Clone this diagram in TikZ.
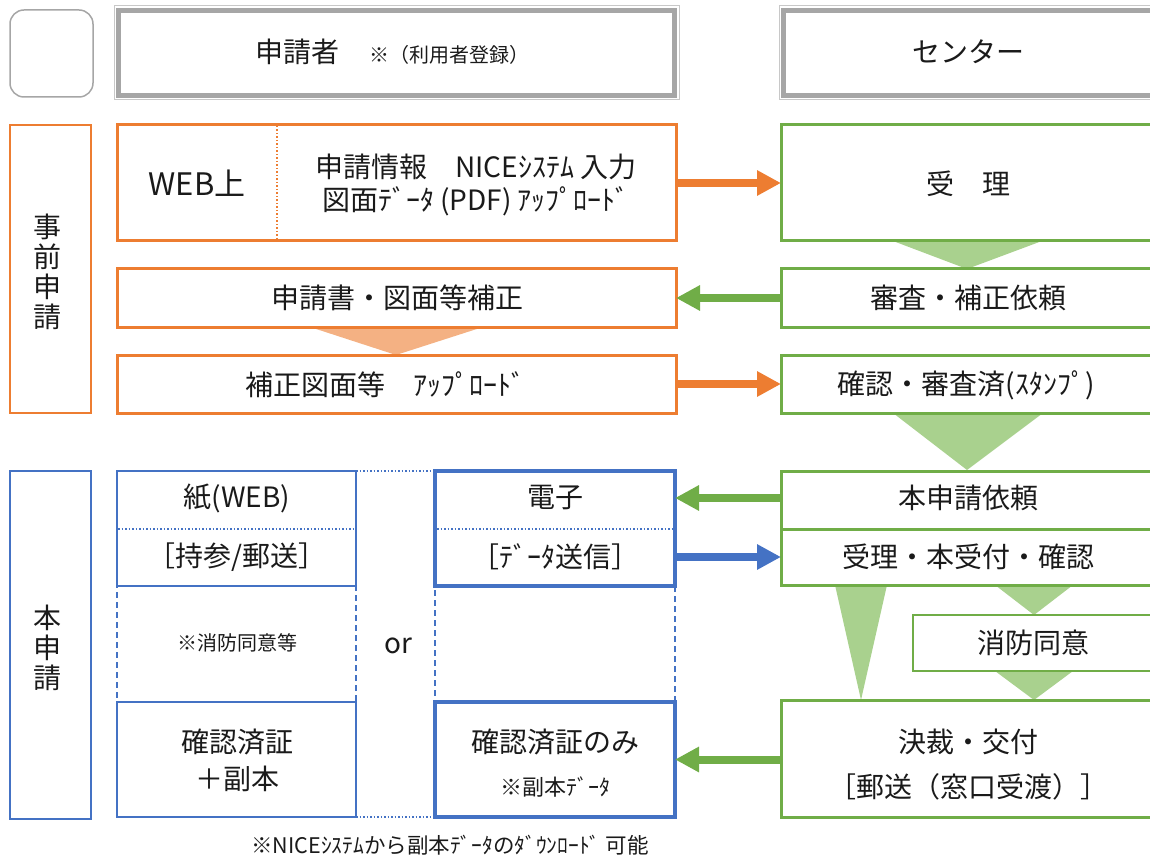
\documentclass[tikz,border=0pt]{standalone}
\usepackage{fontspec}
\setmainfont{Noto Sans CJK JP}
\usetikzlibrary{arrows.meta,fit}
\definecolor{cOr}{HTML}{ED7D31}
\definecolor{cOrL}{HTML}{F4B183}
\definecolor{cGr}{HTML}{70AD47}
\definecolor{cGrL}{HTML}{A9D18E}
\definecolor{cBl}{HTML}{4472C4}
\definecolor{cGy}{HTML}{A6A6A6}
\definecolor{cGyL}{HTML}{C8C8C8}
\definecolor{cTx}{HTML}{1A1A1A}
\newcommand\fsz[1]{\fontsize{#1}{#1}\selectfont}
\newcommand\fsl[2]{\fontsize{#1}{#2}\selectfont}
\begin{document}
\begin{tikzpicture}[x=1pt,y=-1pt,
  every node/.style={inner sep=0pt,outer sep=0pt,text=cTx},
  fbox/.style={inner sep=0pt,outer sep=0pt},
  obox/.style={fbox,draw=cOr,line width=3pt},
  gbox/.style={fbox,draw=cGr,line width=3pt},
  gboxthin/.style={fbox,draw=cGr,line width=2pt},
  bthin/.style={fbox,draw=cBl,line width=1.5pt},
  bthick/.style={fbox,draw=cBl,line width=3.5pt},
  bdash/.style={fbox,draw=cBl,line width=1.5pt,dash pattern=on 6pt off 4pt},
  lbl/.style={fbox,line width=1.5pt},
  txt/.style={font=\fsz{28},align=center},
  stxt/.style={font=\fsz{20},align=center},
  oarr/.style={draw=cOr,line width=8pt,-{Triangle[length=24pt,width=24pt]}},
  garr/.style={draw=cGr,line width=8pt,-{Triangle[length=24pt,width=24pt]}},
  barr/.style={draw=cBl,line width=8pt,-{Triangle[length=24pt,width=24pt]}},
  dotsep/.style={line width=1.5pt,dotted}
]
\useasboundingbox (0,0) rectangle (1150,858);
\clip (0,0) rectangle (1150,858);

% ---- chevrons (under boxes)
\fill[cOrL] (310,327) -- (483,327) -- (396,355) -- cycle;
\fill[cGrL] (893,241) -- (1042,241) -- (967,269) -- cycle;
\fill[cGrL] (893,413) -- (1043,413) -- (967,470) -- cycle;
\fill[cGrL] (995,585) -- (1073,585) -- (1034,615) -- cycle;
\fill[cGrL] (835,585) -- (887,585) -- (861,700) -- cycle;
\fill[cGrL] (995,671) -- (1073,671) -- (1034,700) -- cycle;

% ---- header row
\node[fbox,draw=cGy,line width=1.5pt,rounded corners=14pt,fit={(10,10) (93,97)}] (corner) {};
\node[fbox,draw=cGyL,line width=1pt,fit={(114,6) (679,100)}] (hA) {};
\draw[cGy,line width=5pt] (118.5,10.5) rectangle (674.5,95.5);
\node[font=\fsz{28}] (hAt) at (392,52) {申請者\hspace{30pt}{\fsz{20}※（利用者登録）}};
\node[fbox,draw=cGyL,line width=1pt,fit={(779,6) (1170,100)}] (hB) {};
\draw[cGy,line width=5pt] (783.5,10.5) rectangle (1170,95.5);
\node[txt] (hBt) at (968,52) {センター};

% ---- left labels
\node[lbl,draw=cOr,fit={(10,125) (91,413)}] (pre) {};
\node[txt,font=\fsl{28}{30}] (preT) at (47,272) {事\\前\\申\\請};
\node[lbl,draw=cBl,fit={(10,471) (91,819)}] (main) {};
\node[txt,font=\fsl{28}{30}] (mainT) at (47,648) {本\\申\\請};

% ---- orange (applicant, pre-application)
\node[obox,fit={(117,125) (676,241)}] (o1) {};
\draw[cOr,dotsep] (277,126) -- (277,240);
\node[txt,font=\fsz{31}] (o1a) at (197,183) {WEB上};
\node[txt,font=\fsl{28}{33}] (o1b) at (476,185) {申請情報　NICEｼｽﾃﾑ 入力\\図面ﾃﾞｰﾀ (PDF) ｱｯﾌﾟﾛｰﾄﾞ};
\node[obox,fit={(117,269) (676,327)}] (o2) {};
\node[txt] (o2t) at (397,298) {申請書・図面等補正};
\node[obox,fit={(117,355) (676,413)}] (o3) {};
\node[txt] (o3t) at (385,385) {補正図面等　ｱｯﾌﾟﾛｰﾄﾞ};

% ---- green (center)
\node[gbox,fit={(781,125) (1170,241)}] (g1) {};
\node[txt] (g1t) at (968,184) {受　理};
\node[gbox,fit={(781,269) (1170,327)}] (g2) {};
\node[txt] (g2t) at (968,298) {審査・補正依頼};
\node[gbox,fit={(781,355) (1170,413)}] (g3) {};
\node[txt] (g3t) at (966,385) {確認・審査済(ｽﾀﾝﾌﾟ)};
\node[gbox,fit={(781,471) (1170,529)}] (g4) {};
\node[txt] (g4t) at (968,498) {本申請依頼};
\node[gbox,fit={(781,529) (1170,585)}] (g5) {};
\node[txt] (g5t) at (968,557) {受理・本受付・確認};
\node[gboxthin,fit={(913,615) (1170,671)}] (g6) {};
\node[txt] (g6t) at (1033,643) {消防同意};
\node[gbox,fit={(781,700) (1170,817)}] (g7) {};
\node[txt] (g7a) at (968,742) {決裁・交付};
\node[txt] (g7b) at (968,787) {［郵送（窓口受渡）］};

% ---- blue (main application)
\node[bthin,fit={(117,471) (356,586)}] (p1) {};
\draw[cBl,dotsep] (118,529) -- (355,529);
\node[txt] (p1a) at (237,498) {紙(WEB)};
\node[txt] (p1b) at (237,557) {［持参/郵送］};
\node[bdash,fit={(117,586) (356,702)}] (p2) {};
\node[stxt] (p2t) at (237,643) {※消防同意等};
\node[bthin,fit={(117,702) (356,817)}] (p3) {};
\node[txt,font=\fsl{28}{37}] (p3t) at (237,760) {確認済証\\＋副本};

\node[bthick,fit={(435,471) (675,586)}] (e1) {};
\draw[cBl,dotsep] (437,529) -- (673,529);
\node[txt] (e1a) at (555,498) {電子};
\node[txt] (e1b) at (555,557) {［ﾃﾞｰﾀ送信］};
\node[bdash,fit={(435,586) (675,702)}] (e2) {};
\node[bthick,fit={(435,702) (675,817)}] (e3) {};
\node[txt] (e3a) at (555,742) {確認済証のみ};
\node[stxt,font=\fsz{22}] (e3b) at (555,787) {※副本ﾃﾞｰﾀ};

\draw[cBl,dotsep] (p1.north east) -- (e1.north west);
\draw[cBl,dotsep] (p3.south east) -- (e3.south west);
\node[txt] (or) at (398,646) {or};

\node[stxt,font=\fsz{21.5}] (foot) at (450,845) {※NICEｼｽﾃﾑから副本ﾃﾞｰﾀのﾀﾞｳﾝﾛｰﾄﾞ 可能};

% ---- arrows
\draw[oarr] (o1.east) -- (o1.east -| g1.west);
\draw[garr] (g2.west |- o2.east) -- (o2.east);
\draw[oarr] (o3.east) -- (o3.east -| g3.west);
\draw[garr] (g4.west |- 0,498) -- (e1.east |- 0,498);
\draw[barr] (e1.east |- g5.west) -- (g5.west);
\draw[garr] (g7.west |- e3.east) -- (e3.east);
\end{tikzpicture}
\end{document}
